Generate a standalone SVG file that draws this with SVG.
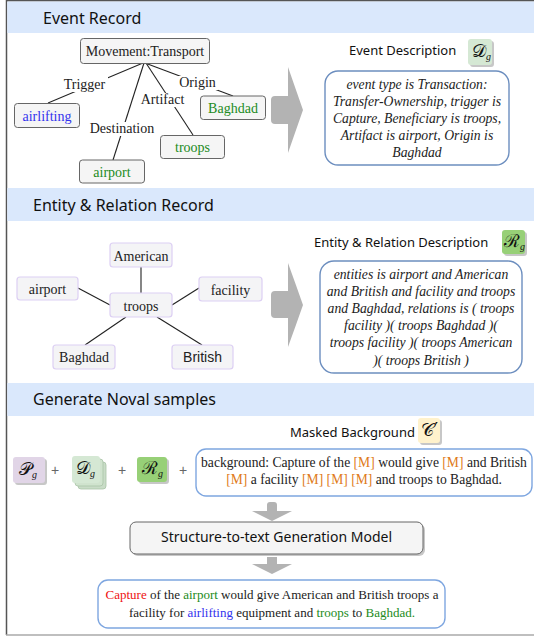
<svg xmlns="http://www.w3.org/2000/svg" width="534" height="637" viewBox="0 0 534 637">
<style>
.hd{font-family:"Noto Sans","DejaVu Sans",sans-serif;font-size:16px;fill:#111}
.sub{font-family:"Noto Sans","DejaVu Sans",sans-serif;font-size:13px;fill:#111}
.t{font-family:"Liberation Serif","Times New Roman",serif;font-size:14px;fill:#222}
.ti{font-family:"Liberation Serif","Times New Roman",serif;font-size:13.7px;font-style:italic;fill:#222}
.ss{font-family:"Liberation Sans",Arial,sans-serif;font-size:14px;fill:#222}
.band{fill:#dae8fc}
.nb{fill:#f5f5f5;stroke:#666;stroke-width:1}
.en{fill:#f4f4f6;stroke:#dccff3;stroke-width:1.2}
.desc{fill:#fff;stroke:#6c8ebf;stroke-width:1.4}
.desc2{fill:#fff;stroke:#7ea6e0;stroke-width:1.4}
.ln{stroke:#222;stroke-width:1.1;fill:none}
.lbg{fill:#fff}
.arr{fill:#b3b3b3}
.sh{fill:#999;opacity:0.55}
.bt{font-family:"DejaVu Serif","Liberation Serif",serif;font-size:18px;fill:#111}
.bs{font-family:"Liberation Serif",serif;font-size:10px;font-style:italic;fill:#111}
.g{fill:#228b22}
.b{fill:#3333ee}
.o{fill:#e07b20}
.r{fill:#ee1111}
.pl{font-family:"Liberation Sans",Arial,sans-serif;font-size:14px;fill:#666}
</style>

<!-- frame -->
<g id="frame">
<line x1="6.5" y1="0" x2="6.5" y2="635" stroke="#555" stroke-width="1.5"/>
<line x1="6" y1="0.75" x2="534" y2="0.75" stroke="#555" stroke-width="1.5"/>
<line x1="6" y1="635" x2="534" y2="635" stroke="#aaa" stroke-width="1.6"/>
</g>

<!-- header bands -->
<g id="headers">
<rect class="band" x="7.25" y="1.5" width="527" height="31.5"/>
<rect class="band" x="7.25" y="188" width="527" height="33"/>
<rect class="band" x="7.25" y="383" width="527" height="33"/>
<text class="hd" x="43" y="24">Event Record</text>
<text class="hd" x="33" y="211">Entity &amp; Relation Record</text>
<text class="hd" x="33" y="405">Generate Noval samples</text>
</g>

<!-- connectors -->
<g id="connectors">
<line class="ln" x1="143" y1="63" x2="48" y2="103"/>
<line class="ln" x1="145" y1="63" x2="233" y2="96"/>
<line class="ln" x1="146" y1="63" x2="193" y2="135"/>
<line class="ln" x1="144" y1="63" x2="113" y2="160"/>
<rect class="lbg" x="61" y="77" width="47" height="15"/>
<text class="t" x="84.5" y="89" text-anchor="middle">Trigger</text>
<rect class="lbg" x="177" y="76" width="41" height="14"/>
<text class="t" x="197.5" y="87" text-anchor="middle">Origin</text>
<rect class="lbg" x="140" y="93" width="45" height="14"/>
<text class="t" x="162.5" y="104" text-anchor="middle">Artifact</text>
<rect class="lbg" x="88" y="122" width="68" height="14"/>
<text class="t" x="122" y="133" text-anchor="middle">Destination</text>

<line class="ln" x1="141" y1="267" x2="141" y2="293"/>
<line class="ln" x1="78" y1="288" x2="110" y2="305"/>
<line class="ln" x1="199" y1="288" x2="172" y2="305"/>
<line class="ln" x1="85" y1="345" x2="126" y2="317"/>
<line class="ln" x1="157" y1="317" x2="202" y2="345"/>
</g>

<!-- event record nodes -->
<g id="node-movement">
<rect class="nb" x="80.5" y="38.5" width="129" height="25" rx="3"/>
<text class="t" x="145" y="56" text-anchor="middle">Movement:Transport</text>
</g>
<g id="node-airlifting">
<rect class="nb" x="14.5" y="103.5" width="65" height="24" rx="3"/>
<text class="t b" x="47" y="120.5" text-anchor="middle">airlifting</text>
</g>
<g id="node-baghdad-ev">
<rect class="nb" x="200.5" y="96" width="65" height="23.5" rx="3"/>
<text class="t g" x="233" y="112.5" text-anchor="middle">Baghdad</text>
</g>
<g id="node-troops-ev">
<rect class="nb" x="160.5" y="135.5" width="64" height="23" rx="3"/>
<text class="t g" x="192.5" y="152" text-anchor="middle">troops</text>
</g>
<g id="node-airport-ev">
<rect class="nb" x="79.5" y="160" width="65" height="23" rx="3"/>
<text class="t g" x="112" y="176.5" text-anchor="middle">airport</text>
</g>

<!-- big arrows -->
<g id="arrow-1">
<path class="arr" d="M271,100 Q271,96 275,96 L288,96 L288,67 Q296,90 303,110 Q296,130 288,153 L288,124 L275,124 Q271,124 271,120 Z"/>
</g>
<g id="arrow-2">
<path class="arr" d="M271,295 Q271,291 275,291 L288,291 L288,263 Q296,285 303,305 Q296,325 288,347 L288,318 L275,318 Q271,318 271,314 Z"/>
</g>

<!-- event description -->
<g id="node-event-desc">
<text class="sub" x="349" y="55">Event Description</text>
<rect class="sh" x="470" y="41" width="24" height="26" rx="3"/>
<rect x="468" y="39" width="24" height="26" rx="3" fill="#d5e8d4"/>
<text x="472" y="57"><tspan class="bt">𝒟</tspan><tspan class="bs" dy="3">g</tspan></text>
<rect class="desc" x="325" y="71" width="184" height="94" rx="13"/>
<text class="ti" x="417" y="89" text-anchor="middle">event type is Transaction:</text>
<text class="ti" x="417" y="106" text-anchor="middle">Transfer-Ownership, trigger is</text>
<text class="ti" x="417" y="123" text-anchor="middle">Capture, Beneficiary is troops,</text>
<text class="ti" x="417" y="140" text-anchor="middle">Artifact is airport, Origin is</text>
<text class="ti" x="417" y="157" text-anchor="middle">Baghdad</text>
</g>

<!-- entity nodes -->
<g id="node-american">
<rect class="en" x="110" y="243" width="62" height="24" rx="3"/>
<text class="t" x="141" y="261" text-anchor="middle">American</text>
</g>
<g id="node-airport-er">
<rect class="en" x="17" y="277" width="61" height="23" rx="3"/>
<text class="t" x="47.5" y="294" text-anchor="middle">airport</text>
</g>
<g id="node-facility">
<rect class="en" x="199" y="277" width="63" height="24" rx="3"/>
<text class="t" x="230.5" y="295" text-anchor="middle">facility</text>
</g>
<g id="node-troops-er">
<rect class="en" x="110" y="293" width="62" height="24" rx="3"/>
<text class="t" x="141" y="311" text-anchor="middle">troops</text>
</g>
<g id="node-baghdad-er">
<rect class="en" x="53" y="345" width="62" height="24" rx="3"/>
<text class="t" x="84" y="362" text-anchor="middle">Baghdad</text>
</g>
<g id="node-british">
<rect class="en" x="172" y="345" width="61" height="24" rx="3"/>
<text class="ss" x="202.5" y="362" text-anchor="middle">British</text>
</g>

<!-- entity relation description -->
<g id="node-er-desc">
<text class="sub" x="314" y="247">Entity &amp; Relation Description</text>
<rect class="sh" x="504" y="232" width="23" height="24" rx="3"/>
<rect x="502" y="230" width="23" height="24" rx="3" fill="#97d077"/>
<text x="504" y="247"><tspan class="bt">ℛ</tspan><tspan class="bs" dy="3">g</tspan></text>
<rect class="desc" x="320" y="261" width="202" height="112" rx="14"/>
<text class="ti" x="421" y="279" text-anchor="middle">entities is airport and American</text>
<text class="ti" x="421" y="296" text-anchor="middle">and British and facility and troops</text>
<text class="ti" x="421" y="313" text-anchor="middle">and Baghdad, relations is ( troops</text>
<text class="ti" x="421" y="330" text-anchor="middle">facility )( troops Baghdad )(</text>
<text class="ti" x="421" y="347" text-anchor="middle">troops facility )( troops American</text>
<text class="ti" x="421" y="365" text-anchor="middle">)( troops British )</text>
</g>

<!-- generation inputs -->
<g id="node-pg">
<rect class="sh" x="15" y="459" width="32" height="26" rx="3"/>
<rect x="13" y="457" width="32" height="26" rx="3" fill="#e1d5e7"/>
<text x="19" y="475"><tspan class="bt">𝒫</tspan><tspan class="bs" dy="3">g</tspan></text>
</g>
<text class="pl" x="55" y="475" text-anchor="middle">+</text>
<g id="node-dg-stack">
<rect x="78" y="462" width="28" height="27" rx="3" fill="#c9dcc7" stroke="#aac4a7" stroke-width="0.8"/>
<rect x="75" y="459" width="28" height="27" rx="3" fill="#d0e3ce" stroke="#aac4a7" stroke-width="0.8"/>
<rect x="72" y="456" width="28" height="27" rx="3" fill="#d5e8d4"/>
<text x="76" y="474"><tspan class="bt">𝒟</tspan><tspan class="bs" dy="3">g</tspan></text>
</g>
<text class="pl" x="122" y="475" text-anchor="middle">+</text>
<g id="node-rg">
<rect class="sh" x="139" y="459" width="30" height="25" rx="3"/>
<rect x="137" y="457" width="30" height="25" rx="3" fill="#97d077"/>
<text x="142" y="474"><tspan class="bt">ℛ</tspan><tspan class="bs" dy="3">g</tspan></text>
</g>
<text class="pl" x="183" y="475" text-anchor="middle">+</text>

<!-- masked background -->
<g id="node-masked">
<text class="sub" x="290" y="437">Masked Background</text>
<rect class="sh" x="420" y="420" width="22" height="25" rx="3"/>
<rect x="418" y="418" width="22" height="25" rx="3" fill="#fff2cc"/>
<text class="bt" x="421" y="436">𝒞′</text>
<rect class="desc2" x="196" y="449" width="336" height="47" rx="10"/>
<text class="t" x="364" y="467" text-anchor="middle" style="font-size:13.6px">background: Capture of the <tspan class="o">[M]</tspan> would give <tspan class="o">[M]</tspan> and British</text>
<text class="t" x="364" y="484" text-anchor="middle" style="font-size:13.6px"><tspan class="o">[M]</tspan> a facility <tspan class="o">[M]</tspan> <tspan class="o">[M]</tspan> <tspan class="o">[M]</tspan> and troops to Baghdad.</text>
</g>

<!-- small arrows -->
<g id="arrow-3">
<path class="arr" d="M267,505 Q267,502 270,502 L274,502 Q277,502 277,505 L277,511 L292,511 L272,521 L252,511 L267,511 Z"/>
</g>
<g id="node-model">
<rect class="sh" x="132" y="524" width="293" height="32" rx="6"/>
<rect class="nb" x="130" y="522" width="293" height="32" rx="6"/>
<text class="sub" x="276.5" y="542" text-anchor="middle" style="font-size:14px">Structure-to-text Generation Model</text>
</g>
<g id="arrow-4">
<path class="arr" d="M267,557 L277,557 L277,564 L292,564 L272,574 L252,564 L267,564 Z"/>
</g>

<!-- output -->
<g id="node-output">
<rect class="desc2" x="98" y="580" width="347" height="48" rx="10"/>
<text class="t" x="272" y="599" text-anchor="middle" style="font-size:13px">
<tspan class="r">Capture</tspan> of the <tspan class="g">airport</tspan> would give American and British troops a</text>
<text class="t" x="272" y="617" text-anchor="middle" style="font-size:13px">facility for <tspan class="b">airlifting</tspan> equipment and <tspan class="g">troops</tspan> to <tspan class="g">Baghdad.</tspan></text>
</g>
</svg>
